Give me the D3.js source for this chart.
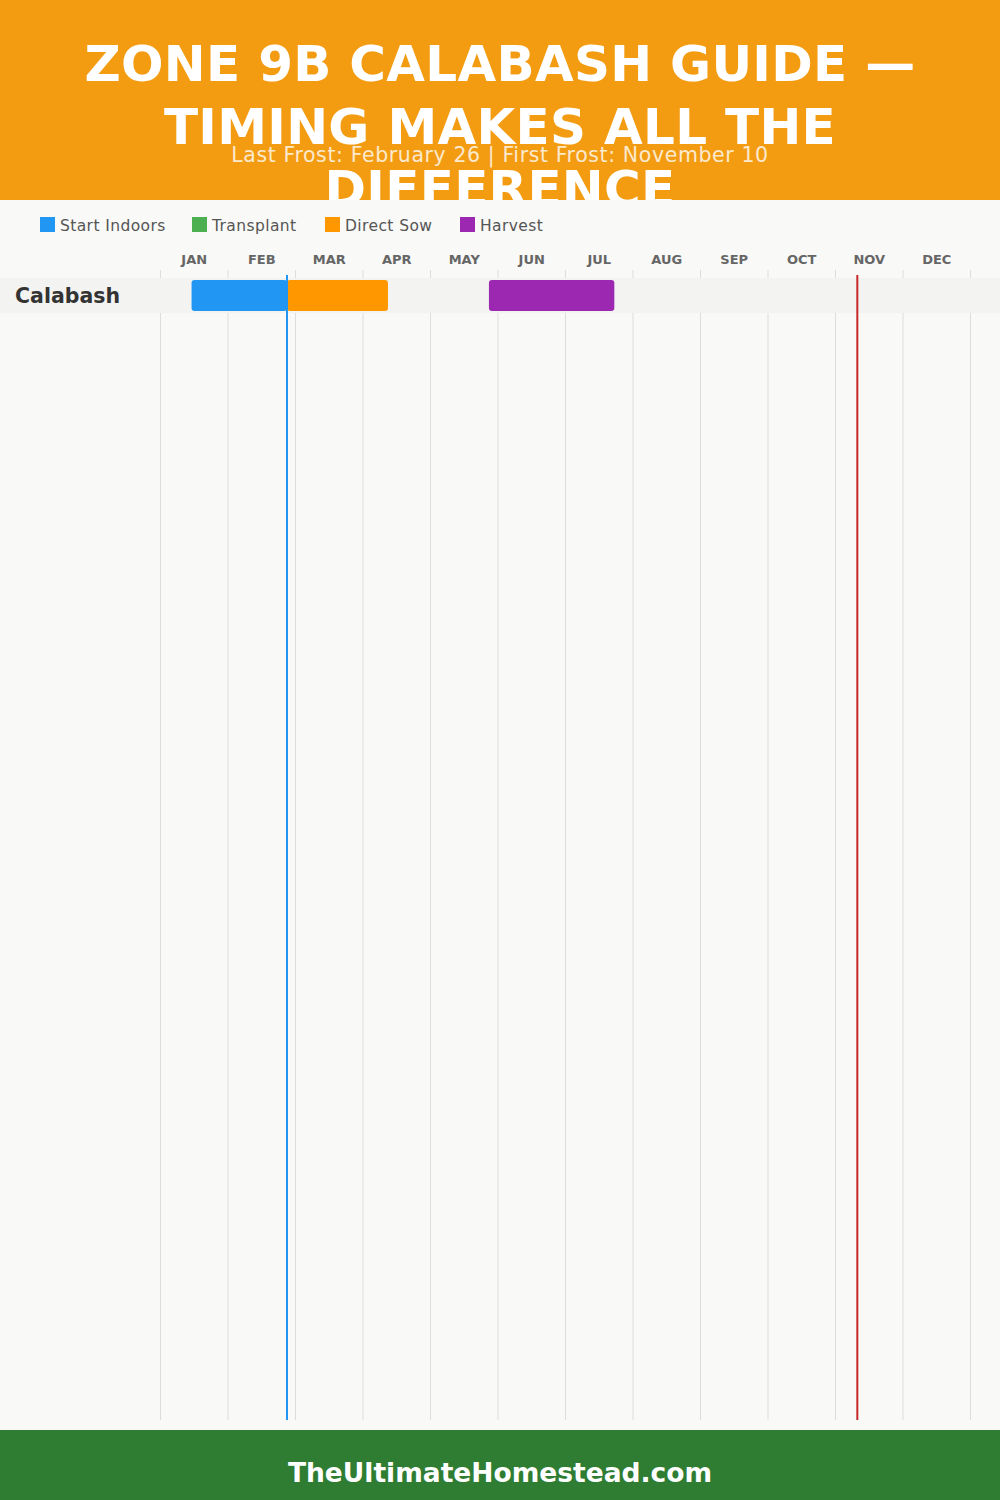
<!DOCTYPE html>
<html>
<head>
<meta charset="utf-8">
<script src="https://cdn.jsdelivr.net/npm/d3@7"></script>
<style>
  html, body { margin: 0; padding: 0; background: #F9F9F7; }
  svg { display: block; }
</style>
</head>
<body>
<script>
// ---- data ----
const titleLines = ["ZONE 9B CALABASH GUIDE —", "TIMING MAKES ALL THE", "DIFFERENCE"];
const subtitle = "Last Frost: February 26 | First Frost: November 10";
const footerText = "TheUltimateHomestead.com";
const months = ["JAN","FEB","MAR","APR","MAY","JUN","JUL","AUG","SEP","OCT","NOV","DEC"];
const legendNames = ["Start Indoors", "Transplant", "Direct Sow", "Harvest"];
const legendColors = ["#2196F3", "#4CAF50", "#FF9800", "#9C27B0"];
const crops = ["Calabash"];
// periods: [crop, type, startDayOfYear, endDayOfYear]
const periods = [
  ["Calabash", "Start Indoors", 14, 57],
  ["Calabash", "Direct Sow", 57, 102.5],
  ["Calabash", "Harvest", 148, 204.5]
];
const lastFrostDay = 57;   // Feb 26
const firstFrostDay = 314; // Nov 10

// ---- layout ----
const W = 1000, H = 1500;
const svg = d3.select("body").append("svg").attr("width", W).attr("height", H);
const color = d3.scaleOrdinal().domain(legendNames).range(legendColors);

// header
svg.append("rect").attr("x", 0).attr("y", 0).attr("width", W).attr("height", 200).attr("fill", "#F39C12");
svg.append("g").selectAll("text").data(titleLines).join("text")
  .attr("x", W / 2).attr("y", (d, i) => 81 + i * 62.5)
  .attr("text-anchor", "middle")
  .attr("font-family", "'DejaVu Sans', sans-serif").attr("font-weight", 800)
  .attr("font-size", 50).attr("letter-spacing", 0.3).attr("fill", "#fff")
  .text(d => d);

// chart background (covers overflow of title)
svg.append("rect").attr("x", 0).attr("y", 200).attr("width", W).attr("height", 1230).attr("fill", "#F9F9F7");

svg.append("text").attr("x", W / 2).attr("y", 162).attr("text-anchor", "middle")
  .attr("font-family", "'DejaVu Sans', sans-serif").attr("font-size", 20.5).attr("letter-spacing", 0.6)
  .attr("fill", "rgba(255,255,255,0.8)").text(subtitle);

// legend
const legendX = [40, 192, 325, 460];
const lg = svg.append("g").selectAll("g").data(legendNames).join("g")
  .attr("transform", (d, i) => `translate(${legendX[i]},217)`);
lg.append("rect").attr("width", 15).attr("height", 15).attr("fill", d => color(d));
lg.append("text").attr("x", 20).attr("y", 13.5)
  .attr("font-family", "'DejaVu Sans', sans-serif").attr("font-size", 15.5).attr("letter-spacing", 0.4).attr("fill", "#555")
  .text(d => d);

// scales
const x0 = 160.5, x1 = 970.5;
const xMonth = d3.scaleBand().domain(months).range([x0, x1]);
const xDay = d3.scaleLinear().domain([0, 365]).range([x0, x1]);
const y = d3.scaleBand().domain(crops).range([278, 278 + 35 * crops.length]);

// gridlines
svg.append("g").selectAll("line").data(months.concat(["END"])).join("line")
  .attr("x1", (d, i) => x0 + i * xMonth.bandwidth()).attr("x2", (d, i) => x0 + i * xMonth.bandwidth())
  .attr("y1", 270).attr("y2", 1420).attr("stroke", "#ddd").attr("stroke-width", 1);

// month labels
svg.append("g").selectAll("text").data(months).join("text")
  .attr("x", d => xMonth(d) + xMonth.bandwidth() / 2).attr("y", 264)
  .attr("text-anchor", "middle")
  .attr("font-family", "'DejaVu Sans', sans-serif").attr("font-weight", "bold")
  .attr("font-size", 13).attr("fill", "#666").text(d => d);

// row bands
svg.append("g").selectAll("rect").data(crops).join("rect")
  .attr("x", 0).attr("width", W).attr("y", d => y(d)).attr("height", y.bandwidth())
  .attr("fill", "#F3F3F2");

svg.append("g").selectAll("text").data(crops).join("text")
  .attr("x", 15).attr("y", d => y(d) + y.bandwidth() / 2 + 7)
  .attr("font-family", "'DejaVu Sans', sans-serif").attr("font-weight", "bold")
  .attr("font-size", 20.5).attr("fill", "#333").text(d => d);

// bars
svg.append("g").selectAll("rect").data(periods).join("rect")
  .attr("x", d => xDay(d[2])).attr("width", d => xDay(d[3]) - xDay(d[2]))
  .attr("y", d => y(d[0]) + 2).attr("height", y.bandwidth() - 4)
  .attr("rx", 3).attr("fill", d => color(d[1]));

// frost lines
svg.append("line").attr("x1", xDay(lastFrostDay)).attr("x2", xDay(lastFrostDay))
  .attr("y1", 275).attr("y2", 1420).attr("stroke", "#2196F3").attr("stroke-width", 2);
svg.append("line").attr("x1", xDay(firstFrostDay)).attr("x2", xDay(firstFrostDay))
  .attr("y1", 275).attr("y2", 1420).attr("stroke", "#C62828").attr("stroke-width", 2);

// footer
svg.append("rect").attr("x", 0).attr("y", 1430).attr("width", W).attr("height", 70).attr("fill", "#2E7D32");
svg.append("text").attr("x", W / 2).attr("y", 1482).attr("text-anchor", "middle")
  .attr("font-family", "'DejaVu Sans', sans-serif").attr("font-weight", "bold")
  .attr("font-size", 26.5).attr("fill", "#fff").text(footerText);
</script>
</body>
</html>
